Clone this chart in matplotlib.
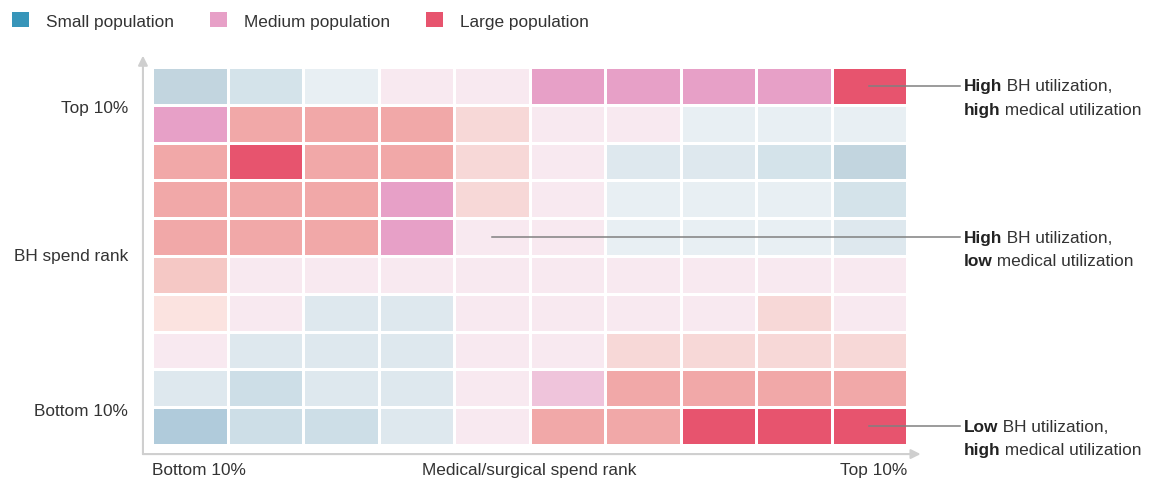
import numpy as np
import matplotlib
matplotlib.use("Agg")
import matplotlib.pyplot as plt
from matplotlib.colors import ListedColormap, BoundaryNorm
from matplotlib.patches import Patch

plt.rcParams['font.family'] = ['Liberation Sans', 'DejaVu Sans']

# ---------------------------------------------------------------------------
# Data: shade codes per cell, rows from "Top 10%" BH spend down to "Bottom 10%",
# columns from "Bottom 10%" medical spend to "Top 10%"
# ---------------------------------------------------------------------------
shade_colors = [
    '#b0cbdb',  # 0  small, darkest
    '#c2d5df',  # 1
    '#cddee7',  # 2
    '#d4e3ea',  # 3
    '#dee8ee',  # 4
    '#e8eff3',  # 5  small, lightest
    '#f8e9f0',  # 6  medium, lightest
    '#efc4db',  # 7
    '#e7a0c7',  # 8  medium
    '#fbe3e0',  # 9  large, lightest
    '#f7d8d7',  # 10
    '#f5c8c5',  # 11
    '#f1a8a8',  # 12
    '#e7546e',  # 13 large, darkest
]

grid_codes = [
    [1, 3, 5, 6, 6, 8, 8, 8, 8, 13],
    [8, 12, 12, 12, 10, 6, 6, 5, 5, 5],
    [12, 13, 12, 12, 10, 6, 4, 4, 3, 1],
    [12, 12, 12, 8, 10, 6, 5, 5, 5, 3],
    [12, 12, 12, 8, 6, 6, 5, 5, 5, 4],
    [11, 6, 6, 6, 6, 6, 6, 6, 6, 6],
    [9, 6, 4, 4, 6, 6, 6, 6, 10, 6],
    [6, 4, 4, 4, 6, 6, 10, 10, 10, 10],
    [4, 2, 4, 4, 6, 7, 12, 12, 12, 12],
    [0, 2, 2, 4, 6, 12, 12, 13, 13, 13],
]

legend_labels = ['Small population', 'Medium population', 'Large population']
legend_colors = ['#3795b9', '#e7a0c7', '#e7546e']

y_labels = ['Top 10%', 'BH spend rank', 'Bottom 10%']
x_labels = ['Bottom 10%', 'Medical/surgical spend rank', 'Top 10%']

# callouts: (column, row, bold1, rest1, bold2, rest2)
callouts = [
    (9.5, 0.5, 'High', ' BH utilization,', 'high', ' medical utilization'),
    (4.5, 4.5, 'High', ' BH utilization,', 'low', ' medical utilization'),
    (9.5, 9.5, 'Low', ' BH utilization,', 'high', ' medical utilization'),
]

TXT = '#333333'
FS = 12.4

# ---------------------------------------------------------------------------
W, H = 1160, 481
fig = plt.figure(figsize=(W / 100, H / 100), dpi=100)
ax = fig.add_axes([152 / W, 1 - 446 / H, 755 / W, 378 / H])

codes = np.array(grid_codes)
cmap = ListedColormap(shade_colors)
norm = BoundaryNorm(np.arange(len(shade_colors) + 1) - 0.5, cmap.N)
ax.pcolormesh(np.arange(11), np.arange(11), codes, cmap=cmap, norm=norm,
              edgecolors='white', linewidth=1.0)
ax.set_xlim(0, 10)
ax.set_ylim(10, 0)
ax.axis('off')

# --- axis arrows ------------------------------------------------------------
arrow_kw = dict(arrowstyle='-|>', color='#cfcfcf', lw=1.5,
                mutation_scale=14, shrinkA=0, shrinkB=0)
ax.annotate('', xy=(-0.012, 1.03), xytext=(-0.012, -0.024),
            xycoords='axes fraction', arrowprops=arrow_kw, annotation_clip=False)
ax.annotate('', xy=(1.018, -0.024), xytext=(-0.012, -0.024),
            xycoords='axes fraction', arrowprops=arrow_kw, annotation_clip=False)

# --- axis labels ------------------------------------------------------------
for lab, yf in zip(y_labels, [0.894, 0.5, 0.09]):
    ax.text(-0.032, yf, lab, transform=ax.transAxes, ha='right', va='center',
            fontsize=FS, color=TXT)
for lab, xf, ha in zip(x_labels, [0.0, 0.5, 1.0], ['left', 'center', 'right']):
    ax.text(xf, -0.064, lab, transform=ax.transAxes, ha=ha, va='center',
            fontsize=FS, color=TXT)

# --- callouts ---------------------------------------------------------------
for cx, cy, b1, r1, b2, r2 in callouts:
    ax.plot([cx, 10.70], [cy, cy], color='#808080', lw=1.1, clip_on=False)
    t1 = ax.text(10.75, cy, b1, fontsize=FS, fontweight='bold', color='#222222',
                 ha='left', va='center', clip_on=False)
    ax.annotate(r1, xy=(1, 0), xycoords=t1, ha='left', va='bottom',
                fontsize=FS, color=TXT)
    t2 = ax.annotate(b2, xy=(0, 0), xycoords=t1, xytext=(0, -17),
                     textcoords='offset points', ha='left', va='bottom',
                     fontsize=FS, fontweight='bold', color='#222222')
    ax.annotate(r2, xy=(1, 0), xycoords=t2, ha='left', va='bottom',
                fontsize=FS, color=TXT)

# --- legend -----------------------------------------------------------------
handles = [Patch(facecolor=c, edgecolor='none') for c in legend_colors]
fig.legend(handles, legend_labels, ncol=3, loc='upper left',
           bbox_to_anchor=(12 / W, 1 - 13 / H), frameon=False,
           borderaxespad=0, borderpad=0, handlelength=1.0, handleheight=1.0,
           handletextpad=1.0, columnspacing=2.05, prop={'size': FS},
           labelcolor=TXT)

fig.savefig('out.png', dpi=100)
